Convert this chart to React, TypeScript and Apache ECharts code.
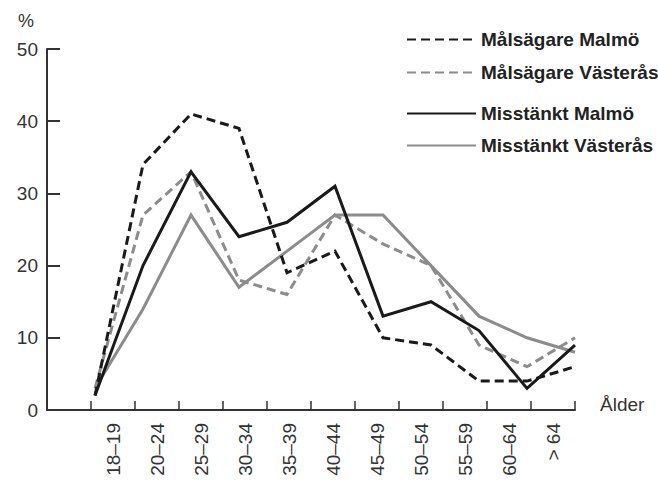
import React, { useEffect, useRef } from "react";
import * as echarts from "echarts";

const ageGroups = ["18–19", "20–24", "25–29", "30–34", "35–39", "40–44", "45–49", "50–54", "55–59", "60–64", "> 64"];
const yTicks = [0, 10, 20, 30, 40, 50];

const malsagareMalmo = [2, 34, 41, 39, 19, 22, 10, 9, 4, 4, 6];
const malsagareVasteras = [3, 27, 33, 18, 16, 27, 23, 20, 9, 6, 10];
const misstanktMalmo = [2, 20, 33, 24, 26, 31, 13, 15, 11, 3, 9];
const misstanktVasteras = [3, 14, 27, 17, 22, 27, 27, 20, 13, 10, 8];

const seriesNames = ["Målsägare Malmö", "Målsägare Västerås", "Misstänkt Malmö", "Misstänkt Västerås"];
const yUnit = "%";
const xName = "Ålder";

const BLACK = "#1a1a1a";
const GRAY = "#8c8c8c";
const AXIS = "#333333";
const FONT = "'Liberation Sans', Arial, Helvetica, sans-serif";

export default function App() {
  const ref = useRef<HTMLDivElement>(null);

  useEffect(() => {
    if (!ref.current) return;
    const chart = echarts.init(ref.current, undefined, { renderer: "svg" });
    const axisData = ["", ...ageGroups];
    const pad = (arr: number[]) => ["-", ...arr];

    const mk = (name: string, data: number[], color: string, dashed: boolean, z: number) => ({
      name,
      type: "line",
      xAxisIndex: 1,
      yAxisIndex: 0,
      data: pad(data),
      symbol: "none",
      showSymbol: false,
      z,
      lineStyle: {
        color,
        width: 3,
        type: dashed ? [9, 5] : "solid",
        cap: "butt",
        join: "miter",
      },
      itemStyle: { color },
    });

    const legendText = { fontSize: 19, fontWeight: "bold", color: "#222", lineHeight: 18, fontFamily: FONT };

    chart.setOption({
      animation: false,
      textStyle: { fontFamily: FONT },
      grid: { left: 47, right: 83, top: 49, bottom: 71, containLabel: false },
      legend: [
        {
          data: [seriesNames[0], seriesNames[1]],
          orient: "vertical",
          left: 406,
          top: 30,
          padding: 0,
          itemWidth: 69,
          itemHeight: 18,
          itemGap: 14,
          selectedMode: false,
          itemStyle: { opacity: 0 },
          textStyle: legendText,
        },
        {
          data: [seriesNames[2], seriesNames[3]],
          orient: "vertical",
          left: 406,
          top: 104,
          padding: 0,
          itemWidth: 69,
          itemHeight: 18,
          itemGap: 13,
          selectedMode: false,
          itemStyle: { opacity: 0 },
          textStyle: legendText,
        },
      ],
      xAxis: [
        {
          type: "category",
          data: axisData,
          boundaryGap: true,
          axisLine: { show: true, lineStyle: { color: AXIS, width: 2 } },
          axisTick: { show: true, inside: true, length: 9, interval: 0, lineStyle: { color: AXIS, width: 1.5 } },
          axisLabel: {
            interval: 0,
            rotate: 90,
            margin: 13,
            fontSize: 19,
            color: AXIS,
            fontFamily: FONT,
          },
          splitLine: { show: false },
        },
        {
          type: "category",
          data: axisData,
          boundaryGap: false,
          show: false,
          position: "bottom",
        },
      ],
      yAxis: {
        type: "value",
        min: yTicks[0],
        max: yTicks[yTicks.length - 1],
        interval: 10,
        axisLine: { show: true, lineStyle: { color: AXIS, width: 2 } },
        axisTick: { show: true, inside: true, length: 13, lineStyle: { color: AXIS, width: 2 } },
        axisLabel: { fontSize: 19, color: AXIS, margin: 9, padding: [6, 0, 0, 0], fontFamily: FONT },
        splitLine: { show: false },
      },
      graphic: [
        {
          type: "text",
          x: 18,
          y: 21,
          style: { text: yUnit, fontSize: 18, fill: AXIS, verticalAlign: "middle", align: "left", fontFamily: FONT },
        },
        {
          type: "text",
          x: 600,
          y: 404,
          style: { text: xName, fontSize: 19, fill: AXIS, verticalAlign: "middle", align: "left", fontFamily: FONT },
        },
      ],
      series: [
        mk(seriesNames[1], malsagareVasteras, GRAY, true, 2),
        mk(seriesNames[3], misstanktVasteras, GRAY, false, 3),
        mk(seriesNames[0], malsagareMalmo, BLACK, true, 4),
        mk(seriesNames[2], misstanktMalmo, BLACK, false, 5),
      ],
    });

    return () => chart.dispose();
  }, []);

  return (
    <div
      ref={ref}
      style={{ position: "fixed", left: 0, top: 0, width: 658, height: 481, background: "#fff" }}
    />
  );
}
